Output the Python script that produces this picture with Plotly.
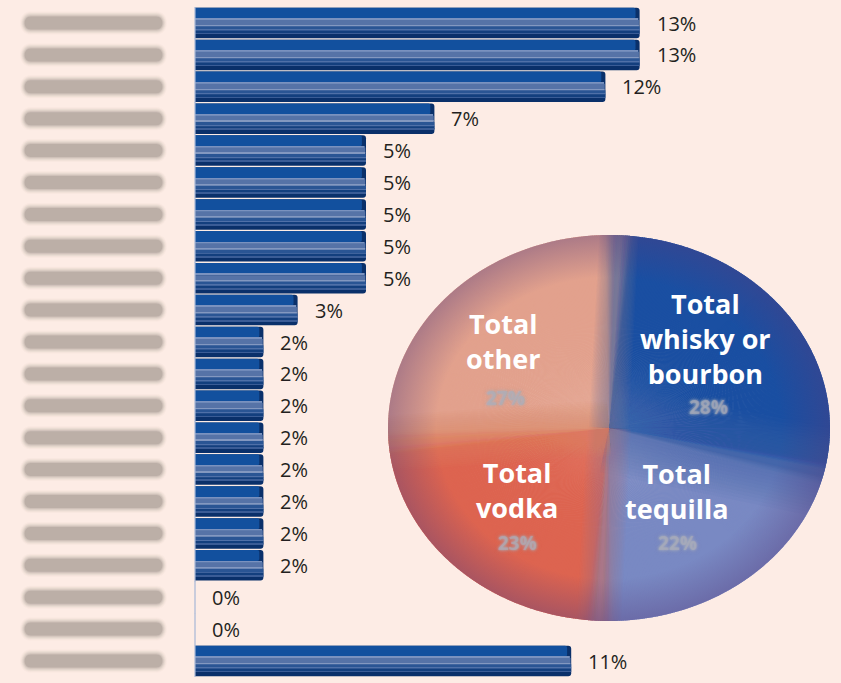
import numpy as np
import plotly.graph_objects as go

# Share of respondents per item, top to bottom (percent)
values = [13, 13, 12, 7, 5, 5, 5, 5, 5, 3, 2, 2, 2, 2, 2, 2, 2, 2, 0, 0, 11]
value_labels = [f"{v}%" for v in values]

# Pie breakdown, clockwise from the top
pie_names = ["Total<br>whisky or<br>bourbon", "Total<br>tequilla", "Total<br>vodka", "Total<br>other"]
pie_shares = [28, 22, 23, 27]
pie_colors = ["#1a4fa2", "#7989c3", "#dd6450", "#e2a18d"]

W, H = 841, 683
BG = "#fdece5"
TEXT = "#231f20"

# bar panel geometry (pixels)
PX_PER_PCT = 34.2
X0_PX = 195
ROW_PX = 31.9
ROW0_PX = 23
BAR_H = 30.5

n = len(values)
rows = list(range(n))

fig = go.Figure()

# ---- bars: stacked horizontal bands give the bevelled 3-D look ----
def bar_band(top, bot, color, inset=0.0, radius=0):
    off = -BAR_H / 2 / ROW_PX + top / ROW_PX
    wid = (bot - top) / ROW_PX
    xs = [max(v - inset, 0) if v > 0 else 0 for v in values]
    fig.add_trace(go.Bar(
        x=xs, y=rows, orientation="h", offset=off, width=wid,
        marker=dict(color=color, line=dict(width=0), cornerradius=radius),
        hoverinfo="skip", showlegend=False))

bar_band(0, 30.5, "#0a306a", 0, 3)
bar_band(0, 11, "#12509e", 0.12, 2)
bar_band(11, 12.2, "#7a92bf", 0.04)
bar_band(12.2, 17.5, "#5673a7", 0.02)
bar_band(17.5, 18.6, "#8398c0", 0.02)
bar_band(18.6, 22, "#2a5594")
bar_band(22, 22.8, "#4f70a8")
bar_band(22.8, 25.5, "#133f7e")
bar_band(25.5, 26.2, "#3a5c96")

# zero line stub on every row
fig.add_trace(go.Scatter(
    x=[0] * n, y=rows, mode="markers",
    marker=dict(symbol="line-ns", size=23, line=dict(color="#a7b8d6", width=1.2)),
    hoverinfo="skip", showlegend=False))

# ---- soft grey row labels on the left (stadium blobs, feathered) ----
shapes = []
def stadium(yc, x0px, x1px, half_px):
    # rounded-end bar in data units of the bar axes
    hx = half_px / PX_PER_PCT
    hy = half_px / ROW_PX
    x0 = (x0px - X0_PX) / PX_PER_PCT
    x1 = (x1px - X0_PX) / PX_PER_PCT
    k = 1.2
    return (f"M{x0 + hx},{yc - hy} L{x1 - hx},{yc - hy} "
            f"C{x1 - hx + k * hx},{yc - hy} {x1 - hx + k * hx},{yc + hy} {x1 - hx},{yc + hy} "
            f"L{x0 + hx},{yc + hy} "
            f"C{x0 + hx - k * hx},{yc + hy} {x0 + hx - k * hx},{yc - hy} {x0 + hx},{yc - hy} Z")

feather = [(11.5, 0.06), (10.5, 0.09), (9.5, 0.14), (8.5, 0.22), (7.5, 0.35), (6.5, 0.7)]
for i in rows:
    for half, alpha in feather:
        grow = half - 6.5
        shapes.append(dict(
            type="path", xref="x", yref="y", layer="below",
            path=stadium(i, 24 - grow, 163 + grow, half),
            fillcolor=f"rgba(180,167,160,{alpha})", line=dict(width=0)))

# ---- value labels ----
annotations = []
for i, (v, lab) in enumerate(zip(values, value_labels)):
    annotations.append(dict(
        x=v, y=i, xref="x", yref="y", text=lab, showarrow=False,
        xanchor="left", yanchor="middle", xshift=15,
        font=dict(family="Open Sans", size=20, color=TEXT)))

# ---- pie drawn as an ellipse on a pixel-space axis pair ----
CX, CY, RA, RB = 609, 428, 221, 193
START = 2.6  # degrees clockwise from 12 o'clock
bounds = [START]
for s in pie_shares:
    bounds.append(bounds[-1] + s * 3.6)

def hex_rgb(h):
    h = h.lstrip("#")
    return np.array([int(h[k:k + 2], 16) for k in (0, 2, 4)], float)

def rgb_str(c, a=None):
    c = tuple(int(v) for v in np.clip(c, 0, 255).round())
    return "rgb(%d,%d,%d)" % c if a is None else "rgba(%d,%d,%d,%.3f)" % (c + (a,))

cols = [hex_rgb(c) for c in pie_colors]
m = len(pie_shares)
BLUR = 4.0

def smooth(t):
    t = min(max(t, 0.0), 1.0)
    return t * t * (3 - 2 * t)

def wedge_color(theta):
    k = 0
    for j in range(m):
        if bounds[j] <= theta < bounds[j + 1]:
            k = j
    d0 = theta - bounds[k]
    d1 = bounds[k + 1] - theta
    c = cols[k].copy()
    if d0 < BLUR:
        w = 0.5 * (1 - smooth(d0 / BLUR))
        c = (1 - w) * c + w * cols[(k - 1) % m]
    elif d1 < BLUR:
        w = 0.5 * (1 - smooth(d1 / BLUR))
        c = (1 - w) * c + w * cols[(k + 1) % m]
    return rgb_str(c)

def rim(theta_deg, scale=1.0):
    t = np.radians(theta_deg)
    return CX + scale * RA * np.sin(t), CY - scale * RB * np.cos(t)

NW = 720
step = 360.0 / NW
for j in range(NW):
    a0 = START + j * step
    a1 = a0 + step + 0.35
    mid = a0 + step / 2
    pts = [rim(a) for a in np.linspace(a0, a1, 3)]
    xs = [CX] + [p[0] for p in pts] + [CX]
    ys = [CY] + [p[1] for p in pts] + [CY]
    col = wedge_color(mid)
    fig.add_trace(go.Scatter(
        x=xs, y=ys, xaxis="x2", yaxis="y2", mode="none", fill="toself",
        fillcolor=col, hoverinfo="skip", showlegend=False))

# soft seams along each slice boundary, clipped to the disc
# (whisky|tequila, tequila|vodka, vodka|other, other|whisky)
seam_width = [90, 44, 56, 40]
rel = np.arange(-179.9, 180.0, 0.1)

def seam_band(b, half):
    ex_, ey_ = rim(b)
    d = np.array([ex_ - CX, ey_ - CY])
    d /= np.hypot(*d)
    nrm = np.array([-d[1], d[0]])
    px, py = rim(b + rel)
    vx, vy = px - CX, py - CY
    side = vx * nrm[0] + vy * nrm[1]
    keep = (np.abs(side) <= half) & (vx * d[0] + vy * d[1] > 0)
    ax, ay, s = px[keep], py[keep], side[keep]
    sgn = 1.0 if s[0] > 0 else -1.0
    c0 = (CX + sgn * half * nrm[0], CY + sgn * half * nrm[1])
    c1 = (CX - sgn * half * nrm[0], CY - sgn * half * nrm[1])
    return [c0[0]] + list(ax) + [c1[0]], [c0[1]] + list(ay) + [c1[1]]

for j in range(m):
    b = bounds[j + 1]
    mix = 0.5 * cols[j] + 0.5 * cols[(j + 1) % m]
    for width in np.linspace(seam_width[j], 4, 14):
        sx, sy = seam_band(b, width / 2)
        fig.add_trace(go.Scatter(
            x=sx, y=sy, xaxis="x2", yaxis="y2", mode="none", fill="toself",
            fillcolor=rgb_str(mix, 0.06), hoverinfo="skip", showlegend=False))

# rim shading over the whole disc
ang = np.linspace(0, 360, 241)
ex = [rim(a)[0] for a in ang]
ey = [rim(a)[1] for a in ang]
fig.add_trace(go.Scatter(
    x=ex, y=ey, xaxis="x2", yaxis="y2", mode="none", fill="toself",
    fillgradient=dict(type="radial", colorscale=[
        [0, "rgba(85,60,125,0)"], [0.78, "rgba(85,60,125,0)"],
        [1, "rgba(85,60,125,0.38)"]]),
    hoverinfo="skip", showlegend=False))

# slice captions
label_pos = [(705, 338), (677, 491), (517, 490), (503, 341)]
pct_pos = [(708, 407), (677, 543), (517, 543), (505, 398)]
for name, share, (lx, ly), (px, py) in zip(pie_names, pie_shares, label_pos, pct_pos):
    annotations.append(dict(
        x=lx, y=ly, xref="x2", yref="y2", text=f"<b>{name}</b>", showarrow=False,
        xanchor="center", yanchor="middle", align="center",
        font=dict(family="Open Sans", size=27, color="white")))
    annotations.append(dict(
        x=px, y=py, xref="x2", yref="y2", text=f"<b>{share}%</b>",
        showarrow=False, xanchor="center", yanchor="middle",
        font=dict(family="Open Sans", size=19, color="rgba(172,174,186,0.55)",
                  shadow="0 0 2px rgba(172,174,186,1), 0 0 3px rgba(172,174,186,1), "
                         "0 0 4px rgba(172,174,186,1)")))

fig.update_layout(
    width=W, height=H,
    margin=dict(l=0, r=0, t=0, b=0),
    paper_bgcolor=BG, plot_bgcolor="rgba(0,0,0,0)",
    barmode="overlay", showlegend=False,
    xaxis=dict(domain=[0, 1], range=[-X0_PX / PX_PER_PCT, (W - X0_PX) / PX_PER_PCT],
               visible=False, fixedrange=True),
    yaxis=dict(domain=[0, 1], range=[(H - ROW0_PX) / ROW_PX, -ROW0_PX / ROW_PX],
               visible=False, fixedrange=True),
    xaxis2=dict(domain=[0, 1], range=[0, W], visible=False, anchor="y2", fixedrange=True),
    yaxis2=dict(domain=[0, 1], range=[H, 0], visible=False, anchor="x2", fixedrange=True),
    shapes=shapes,
    annotations=annotations,
)

fig.write_html("out.html", config={"displayModeBar": False})
